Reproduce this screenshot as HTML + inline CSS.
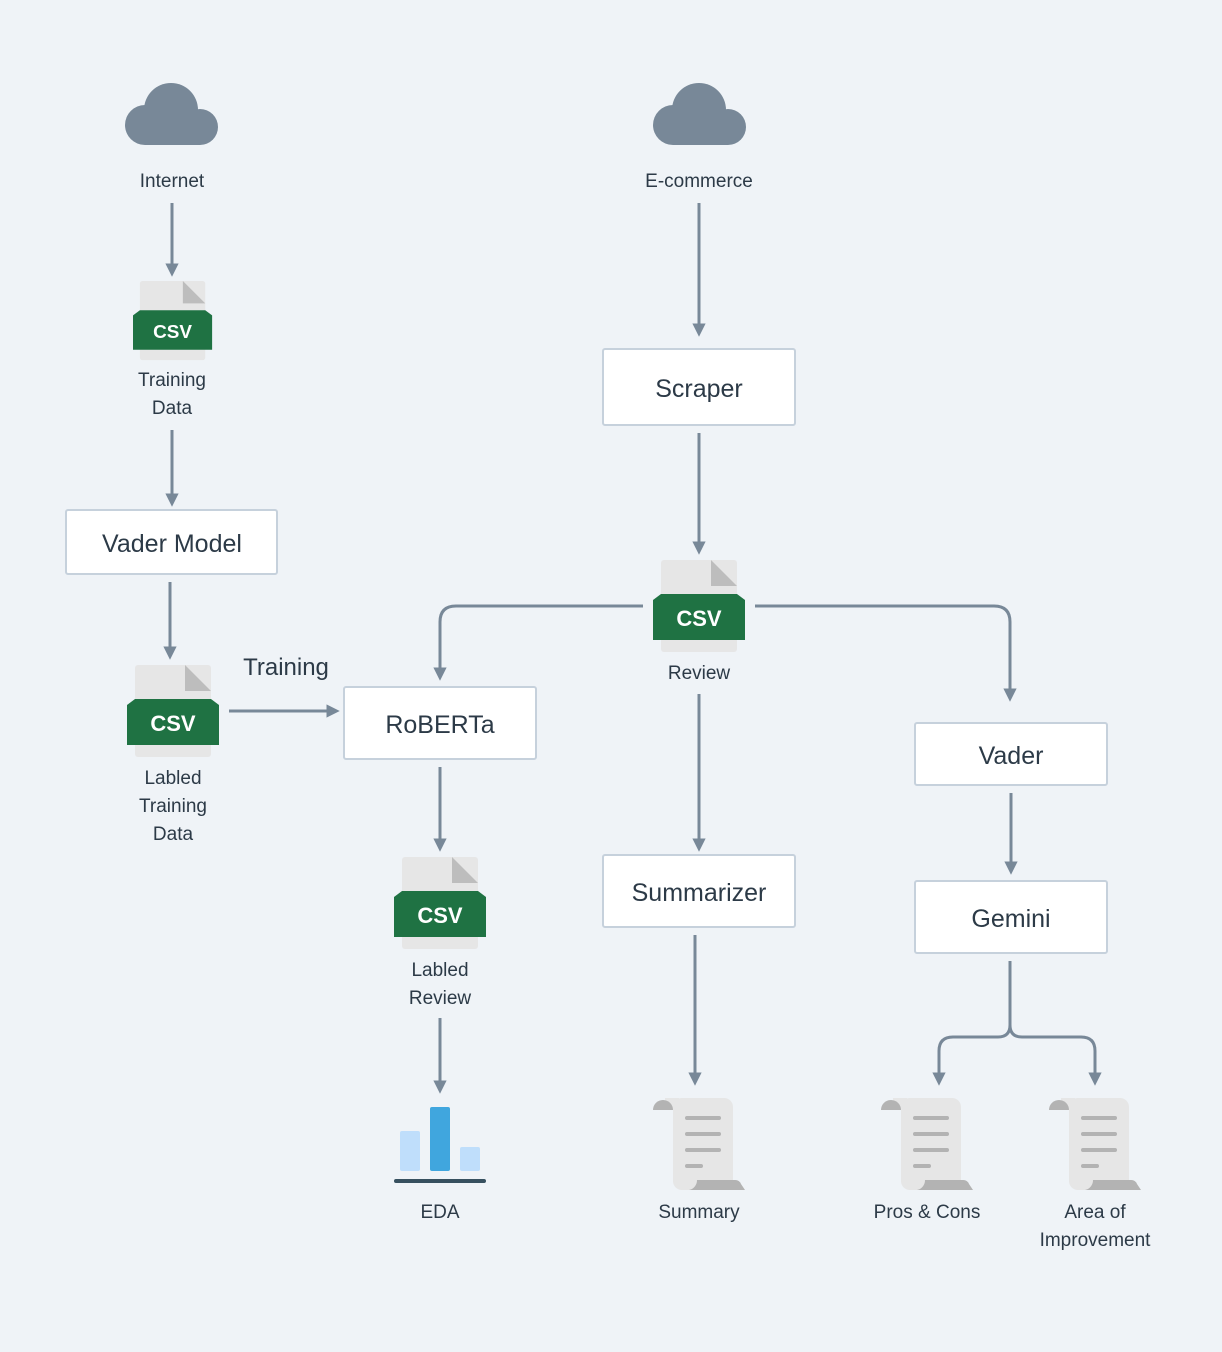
<!DOCTYPE html>
<html><head><meta charset="utf-8"><style>
html,body{margin:0;padding:0;background:#eff3f7;}
svg{display:block;}
text{font-family:"Liberation Sans",sans-serif;fill:#2c3a47;}
</style></head><body>
<svg width="1222" height="1352" viewBox="0 0 1222 1352" xmlns="http://www.w3.org/2000/svg">
<defs>
<marker id="ah" viewBox="0 0 10 10" refX="5" refY="5" markerWidth="4.5" markerHeight="4.5" orient="auto"><path d="M0,0 L10,5 L0,10 z" fill="#788898"/></marker>
<g id="csv">
<rect x="8" y="0" width="76" height="92" rx="3" fill="#e6e6e6"/>
<path d="M58,0 L84,26 L58,26 z" fill="#bdbdbd"/>
<path d="M0,40 L8,34 L84,34 L92,40 L92,80 L0,80 z" fill="#1f7243"/>
<text x="46" y="66" text-anchor="middle" font-size="22" font-weight="bold" style="fill:#fff">CSV</text>
</g>
<g id="cloud" fill="#788898">
<circle cx="46" cy="27" r="27"/><circle cx="20" cy="42" r="20"/><circle cx="75" cy="44" r="18"/>
<rect x="20" y="30" width="55" height="32"/>
</g>
<g id="scroll">
<rect x="20" y="0" width="60" height="92" rx="9" fill="#e6e6e6"/>
<rect x="12" y="0" width="14" height="12" fill="#e6e6e6"/>
<path d="M0,12 a10,10 0 0 1 20,0 z" fill="#b3b3b3"/>
<path d="M36,92 L92,92 L88,86 a6,6 0 0 0 -6,-4 L44,82 a10,10 0 0 1 -8,10z" fill="#b3b3b3"/>
<g stroke="#b3b3b3" stroke-width="4" stroke-linecap="round">
<line x1="34" y1="20" x2="66" y2="20"/><line x1="34" y1="36" x2="66" y2="36"/><line x1="34" y1="52" x2="66" y2="52"/><line x1="34" y1="68" x2="48" y2="68"/>
</g>
</g>
</defs>

<g stroke="#788898" stroke-width="3" fill="none" marker-end="url(#ah)">
<line x1="172" y1="203" x2="172" y2="270"/>
<line x1="172" y1="430" x2="172" y2="500"/>
<line x1="170" y1="582" x2="170" y2="653"/>
<line x1="229" y1="711" x2="333" y2="711"/>
<line x1="699" y1="203" x2="699" y2="330"/>
<line x1="699" y1="433" x2="699" y2="548"/>
<path d="M643,606 L456,606 Q440,606 440,622 L440,674"/>
<path d="M755,606 L994,606 Q1010,606 1010,622 L1010,695"/>
<line x1="699" y1="694" x2="699" y2="845"/>
<line x1="440" y1="767" x2="440" y2="845"/>
<line x1="440" y1="1018" x2="440" y2="1087"/>
<line x1="695" y1="935" x2="695" y2="1079"/>
<line x1="1011" y1="793" x2="1011" y2="868"/>
<path d="M1010,961 L1010,1025 Q1010,1037 998,1037 L953,1037 Q939,1037 939,1051 L939,1079"/>
<path d="M1010,1025 Q1010,1037 1022,1037 L1081,1037 Q1095,1037 1095,1051 L1095,1079"/>
</g>

<use href="#cloud" transform="translate(125,83)"/>
<use href="#cloud" transform="translate(653,83)"/>
<text x="172" y="187" text-anchor="middle" font-size="19">Internet</text>
<text x="699" y="187" text-anchor="middle" font-size="19">E-commerce</text>

<use href="#csv" transform="translate(133,281) scale(0.86)"/>
<text x="172" y="386" text-anchor="middle" font-size="19">Training</text>
<text x="172" y="414" text-anchor="middle" font-size="19">Data</text>

<use href="#csv" transform="translate(127,665)"/>
<text x="173" y="784" text-anchor="middle" font-size="19">Labled</text>
<text x="173" y="812" text-anchor="middle" font-size="19">Training</text>
<text x="173" y="840" text-anchor="middle" font-size="19">Data</text>

<use href="#csv" transform="translate(653,560)"/>
<text x="699" y="679" text-anchor="middle" font-size="19">Review</text>

<use href="#csv" transform="translate(394,857)"/>
<text x="440" y="976" text-anchor="middle" font-size="19">Labled</text>
<text x="440" y="1004" text-anchor="middle" font-size="19">Review</text>

<text x="286" y="675" text-anchor="middle" font-size="24">Training</text>

<g fill="#fff" stroke="#c6d1dc" stroke-width="2">
<rect x="603" y="349" width="192" height="76" rx="2"/>
<rect x="66" y="510" width="211" height="64" rx="2"/>
<rect x="344" y="687" width="192" height="72" rx="2"/>
<rect x="603" y="855" width="192" height="72" rx="2"/>
<rect x="915" y="723" width="192" height="62" rx="2"/>
<rect x="915" y="881" width="192" height="72" rx="2"/>
</g>
<g font-size="25" text-anchor="middle">
<text x="699" y="397">Scraper</text>
<text x="172" y="552">Vader Model</text>
<text x="440" y="733">RoBERTa</text>
<text x="699" y="901">Summarizer</text>
<text x="1011" y="764">Vader</text>
<text x="1011" y="927">Gemini</text>
</g>

<rect x="400" y="1131" width="20" height="40" rx="2" fill="#bfdefb"/>
<rect x="430" y="1107" width="20" height="64" rx="2" fill="#40a6de"/>
<rect x="460" y="1147" width="20" height="24" rx="2" fill="#bfdefb"/>
<rect x="394" y="1179" width="92" height="4" rx="2" fill="#37505f"/>
<text x="440" y="1218" text-anchor="middle" font-size="19">EDA</text>

<use href="#scroll" transform="translate(653,1098)"/>
<use href="#scroll" transform="translate(881,1098)"/>
<use href="#scroll" transform="translate(1049,1098)"/>
<text x="699" y="1218" text-anchor="middle" font-size="19">Summary</text>
<text x="927" y="1218" text-anchor="middle" font-size="19">Pros &amp; Cons</text>
<text x="1095" y="1218" text-anchor="middle" font-size="19">Area of</text>
<text x="1095" y="1246" text-anchor="middle" font-size="19">Improvement</text>
</svg>
</body></html>
